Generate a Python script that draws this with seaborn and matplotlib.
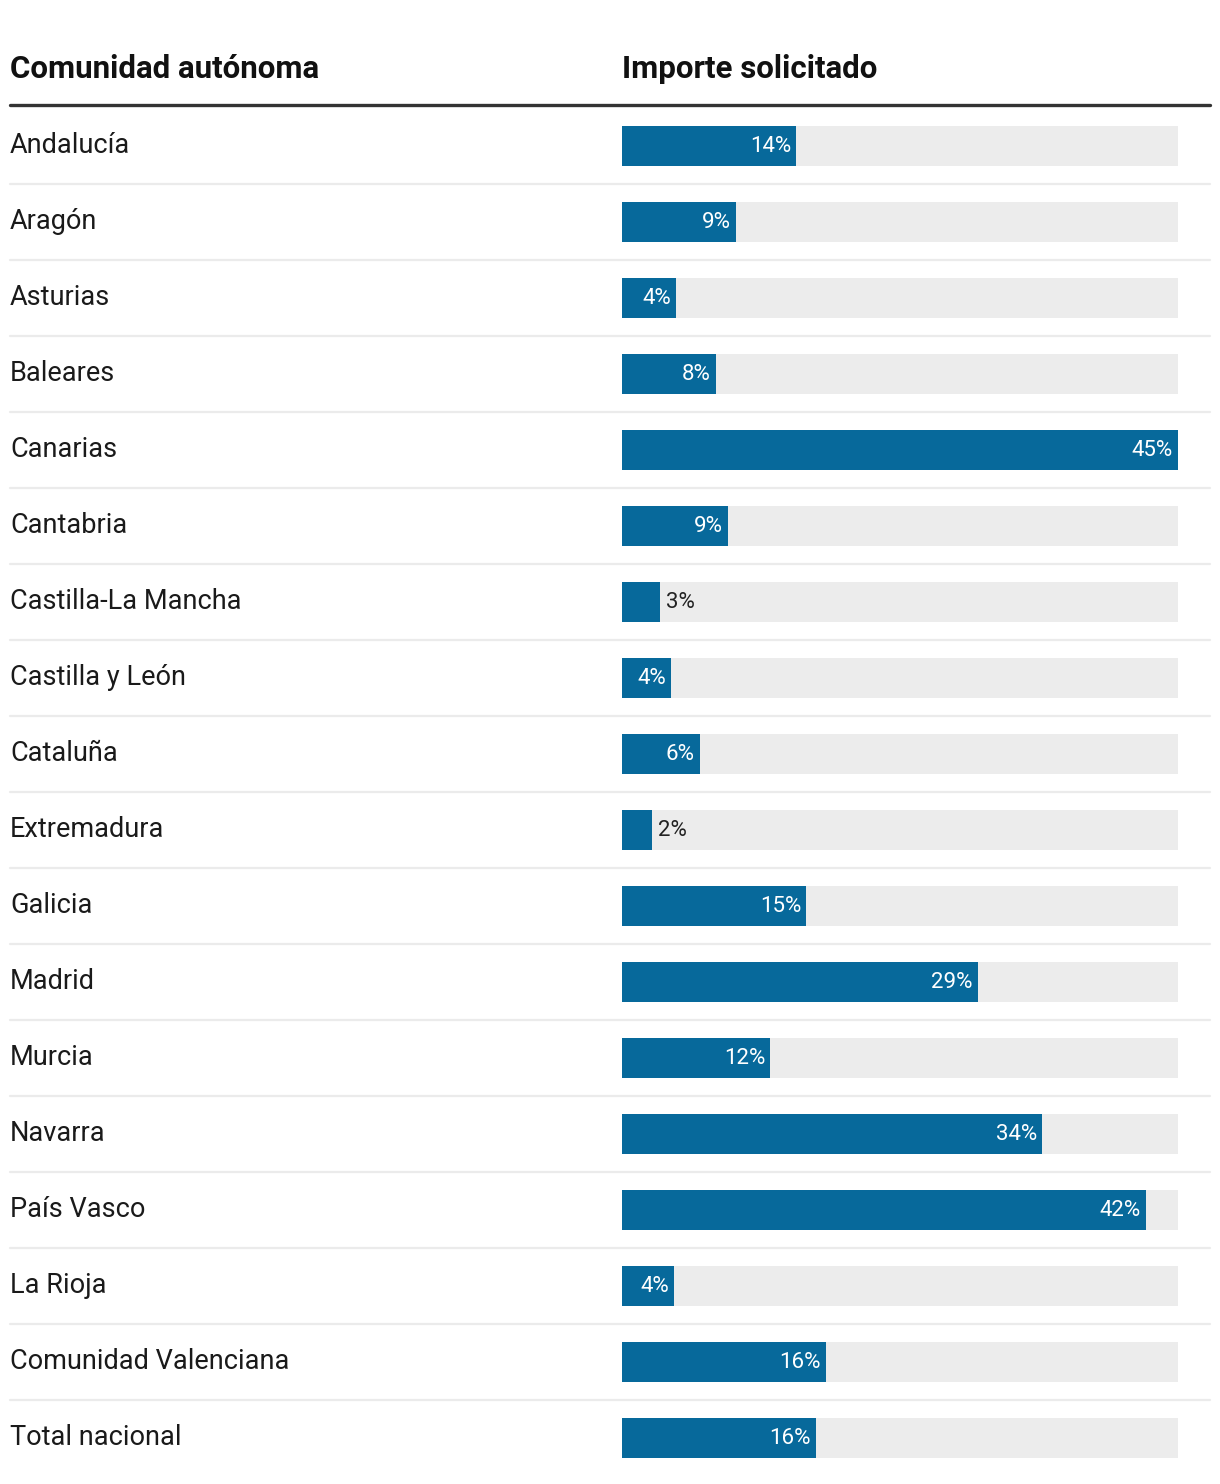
import pandas as pd
import seaborn as sns
import matplotlib.pyplot as plt
from matplotlib import transforms
from matplotlib.lines import Line2D

regiones = ['Andalucía', 'Aragón', 'Asturias', 'Baleares', 'Canarias', 'Cantabria',
            'Castilla-La Mancha', 'Castilla y León', 'Cataluña', 'Extremadura',
            'Galicia', 'Madrid', 'Murcia', 'Navarra', 'País Vasco', 'La Rioja',
            'Comunidad Valenciana', 'Total nacional']
importe = [14.1, 9.2, 4.4, 7.6, 45.0, 8.6, 3.1, 4.0, 6.3, 2.4,
           14.9, 28.8, 12.0, 34.0, 42.4, 4.2, 16.5, 15.7]
etiquetas = ['14%', '9%', '4%', '8%', '45%', '9%', '3%', '4%', '6%', '2%',
             '15%', '29%', '12%', '34%', '42%', '4%', '16%', '16%']

df = pd.DataFrame({'region': regiones, 'importe': importe})
df['fondo'] = max(importe)

sns.set_style('white')
plt.rcParams['font.family'] = ['Roboto', 'DejaVu Sans']

W, H = 1220, 1484
fig = plt.figure(figsize=(W / 100, H / 100), dpi=100)
# axes covers bar track area: x 622..1178 px, rows centred at 146 + 76*i
top_px, bot_px = 108, 1476
ax = fig.add_axes([622 / W, 1 - bot_px / H, (1178 - 622) / W, (bot_px - top_px) / H])

bw = 40 / 76
sns.barplot(data=df, x='fondo', y='region', color='#ececec', width=bw,
            saturation=1, linewidth=0, ax=ax)
sns.barplot(data=df, x='importe', y='region', color='#07699b', width=bw,
            saturation=1, linewidth=0, ax=ax)
ax.set_xlim(0, max(importe))
ax.set_ylim(len(regiones) - 0.5, -0.5)
ax.axis('off')

blend = transforms.blended_transform_factory(fig.transFigure, ax.transData)
px = 1 / W
for i, (reg, val, lab) in enumerate(zip(regiones, importe, etiquetas)):
    ax.text(10 * px, i - 0.01, reg, transform=blend, ha='left', va='center',
            fontsize=19.5, color='#1a1a1a')
    if val < 3.5:
        ax.annotate(lab, (val, i), xytext=(6, -1), textcoords='offset pixels',
                    ha='left', va='center', fontsize=16, color='#222222')
    else:
        ax.annotate(lab, (val, i), xytext=(-5, -1), textcoords='offset pixels',
                    ha='right', va='center', fontsize=16, color='white')
    if i < len(regiones) - 1:
        ax.plot([10 * px, 1210 * px], [i + 0.5, i + 0.5], transform=blend,
                color='#ebebeb', lw=1.6, clip_on=False)

# header
fig.text(10 * px, 1 - 69 / H, 'Comunidad autónoma', ha='left', va='center',
         fontsize=22.5, fontweight='bold', color='#111111')
fig.text(622 * px, 1 - 69 / H, 'Importe solicitado', ha='left', va='center',
         fontsize=22.5, fontweight='bold', color='#111111')
fig.add_artist(Line2D([10 * px, 1210 * px], [1 - 105 / H, 1 - 105 / H],
                      color='#333333', lw=2.4))

fig.savefig('out.png', dpi=100)
